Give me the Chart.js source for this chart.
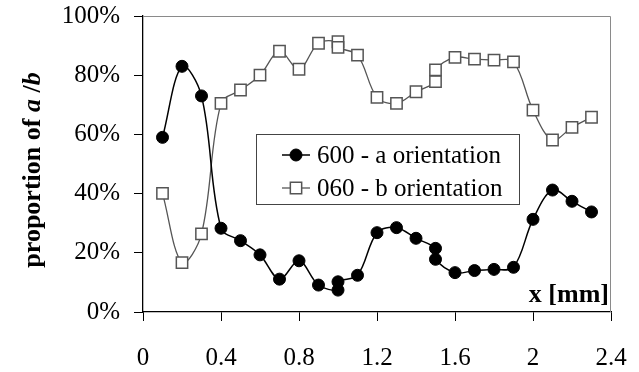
<!DOCTYPE html>
<html>
<head>
<meta charset="utf-8">
<script src="https://cdn.jsdelivr.net/npm/chart.js@4/dist/chart.umd.min.js"></script>
<style>
  body { margin: 0; background: #fff; }
</style>
</head>
<body>
<canvas id="orientChart" width="639" height="372"></canvas>
<script>
// positions along the sample (mm); 1.0 and 1.5 were measured twice
const xPositions = [0.1, 0.2, 0.3, 0.4, 0.5, 0.6, 0.7, 0.8, 0.9, 1.0, 1.0, 1.1, 1.2, 1.3, 1.4, 1.5, 1.5, 1.6, 1.7, 1.8, 1.9, 2.0, 2.1, 2.2, 2.3];
const aOrientation = [59, 83, 73, 28.3, 24.1, 19.3, 11.1, 17.3, 9.1, 7.4, 10.2, 12.4, 26.8, 28.5, 24.9, 21.5, 17.8, 13.3, 14.0, 14.4, 15.1, 31.3, 41.2, 37.4, 33.8];
const bOrientation = [40.1, 16.7, 26.4, 70.5, 75.0, 80.0, 88.1, 82.0, 90.8, 91.3, 89.4, 86.8, 72.5, 70.5, 74.4, 77.8, 81.8, 86.0, 85.4, 85.1, 84.5, 68.2, 58.1, 62.4, 65.8];
const seriesNames = ["600 - a orientation", "060 - b orientation"];
const xTicks = [0, 0.4, 0.8, 1.2, 1.6, 2, 2.4];
const yTicks = [0, 20, 40, 60, 80, 100];

const SERIF = "'Liberation Serif', 'Times New Roman', serif";

function toPoints(values) {
    return values.map((v, i) => ({ x: xPositions[i], y: v }));
}

// gray frame on top and right of the plot area, like the original
const plotFrame = {
    id: "plotFrame",
    beforeDatasetsDraw(chart) {
        const a = chart.chartArea;
        const ctx = chart.ctx;
        ctx.save();
        ctx.strokeStyle = "#8a8a8a";
        ctx.lineWidth = 1;
        ctx.beginPath();
        ctx.moveTo(a.left, a.top + 0.5);
        ctx.lineTo(a.right - 0.5, a.top + 0.5);
        ctx.lineTo(a.right - 0.5, a.bottom);
        ctx.stroke();
        ctx.restore();
    }
};

// legend box inside the plot and the two axis titles
const extras = {
    id: "extras",
    afterDraw(chart) {
        const ctx = chart.ctx;
        ctx.save();

        // legend
        ctx.fillStyle = "#fff";
        ctx.fillRect(256, 134, 264, 71);
        ctx.strokeStyle = "#444";
        ctx.lineWidth = 1;
        ctx.strokeRect(256.5, 134.5, 263, 70);

        const rows = [155, 188];
        chart.data.datasets.forEach((ds, i) => {
            const y = rows[i];
            ctx.strokeStyle = ds.borderColor;
            ctx.lineWidth = ds.borderWidth;
            ctx.beginPath();
            ctx.moveTo(282, y);
            ctx.lineTo(310, y);
            ctx.stroke();
            ctx.fillStyle = ds.pointBackgroundColor;
            ctx.strokeStyle = ds.pointBorderColor;
            ctx.lineWidth = ds.pointBorderWidth;
            ctx.beginPath();
            if (ds.pointStyle === "circle") {
                ctx.arc(296, y, ds.pointRadius, 0, Math.PI * 2);
            } else {
                const s = ds.pointRadius * Math.SQRT1_2;
                ctx.rect(296 - s, y - s, 2 * s, 2 * s);
            }
            ctx.fill();
            ctx.stroke();

            ctx.fillStyle = "#000";
            ctx.font = "25px " + SERIF;
            ctx.textBaseline = "middle";
            ctx.textAlign = "left";
            ctx.fillText(ds.label, 317, y + 1);
        });

        // x axis title inside the plot, bottom right
        ctx.font = "bold 26px " + SERIF;
        ctx.textAlign = "right";
        ctx.textBaseline = "alphabetic";
        ctx.fillStyle = "#000";
        ctx.fillText("x [mm]", 609, 302);

        // y axis title, rotated, with italic a and b
        const parts = [
            ["proportion of ", "bold 26px "],
            ["a", "italic bold 26px "],
            [" /", "bold 26px "],
            ["b", "italic bold 26px "]
        ];
        let total = 0;
        parts.forEach(p => { ctx.font = p[1] + SERIF; total += ctx.measureText(p[0]).width; });
        ctx.translate(40, 170);
        ctx.rotate(-Math.PI / 2);
        ctx.textAlign = "left";
        ctx.textBaseline = "alphabetic";
        let x = -total / 2;
        parts.forEach(p => {
            ctx.font = p[1] + SERIF;
            ctx.fillText(p[0], x, 0);
            x += ctx.measureText(p[0]).width;
        });
        ctx.restore();
    }
};

new Chart(document.getElementById("orientChart").getContext("2d"), {
    type: "line",
    data: {
        datasets: [{
            label: seriesNames[0],
            data: toPoints(aOrientation),
            borderColor: "#000",
            borderWidth: 1.5,
            pointStyle: "circle",
            pointRadius: 6,
            pointBackgroundColor: "#000",
            pointBorderColor: "#000",
            pointBorderWidth: 1,
            tension: 0.35
        }, {
            label: seriesNames[1],
            data: toPoints(bOrientation),
            borderColor: "#555",
            borderWidth: 1.3,
            pointStyle: "rect",
            pointRadius: 8,
            pointBackgroundColor: "#fff",
            pointBorderColor: "#555",
            pointBorderWidth: 1.5,
            tension: 0.35
        }]
    },
    options: {
        responsive: false,
        animation: false,
        layout: { padding: { top: 16, right: 28, left: 0, bottom: 0 } },
        plugins: {
            legend: { display: false },
            tooltip: { enabled: false }
        },
        scales: {
            x: {
                type: "linear",
                min: 0,
                max: 2.4,
                afterBuildTicks: scale => { scale.ticks = xTicks.map(v => ({ value: v })); },
                afterFit: scale => {
                    scale.height = 60;
                    scale.paddingLeft = 0;
                    scale.paddingRight = 0;
                },
                ticks: {
                    color: "#000",
                    font: { family: SERIF, size: 25 },
                    padding: 22,
                    maxRotation: 0,
                    callback: v => String(Number(v.toFixed(1)))
                },
                grid: { drawOnChartArea: false, drawTicks: true, tickLength: 9, color: "#000" },
                border: { color: "#000", width: 1.3 }
            },
            y: {
                min: 0,
                max: 100,
                afterBuildTicks: scale => { scale.ticks = yTicks.map(v => ({ value: v })); },
                afterFit: scale => {
                    scale.width = 143;
                    scale.paddingTop = 0;
                    scale.paddingBottom = 0;
                },
                ticks: {
                    color: "#000",
                    font: { family: SERIF, size: 25 },
                    padding: 14,
                    callback: v => v + "%"
                },
                grid: { drawOnChartArea: false, drawTicks: true, tickLength: 9, color: "#000" },
                border: { color: "#000", width: 1.3 }
            }
        }
    },
    plugins: [plotFrame, extras]
});
</script>
</body>
</html>
